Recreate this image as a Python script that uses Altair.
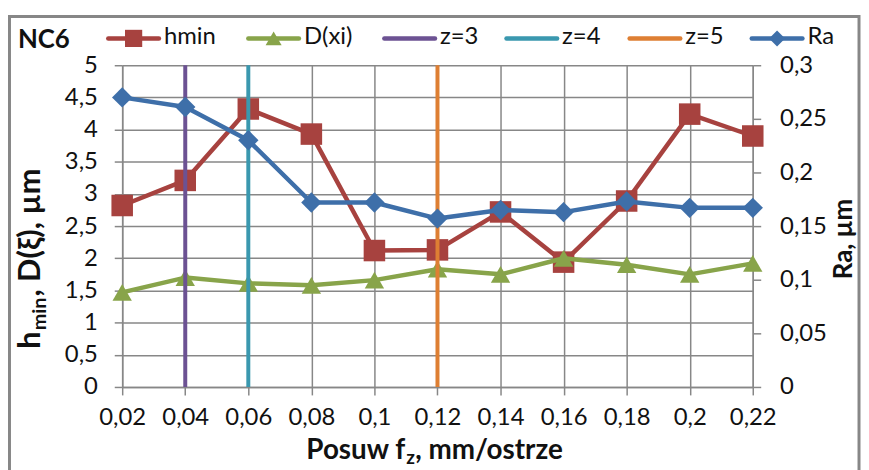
import altair as alt
import pandas as pd

# ---- data ----
feed = [0.02, 0.04, 0.06, 0.08, 0.10, 0.12, 0.14, 0.16, 0.18, 0.20, 0.22]
hmin = [2.82, 3.21, 4.32, 3.93, 2.12, 2.13, 2.72, 1.94, 2.89, 4.24, 3.90]
d_xi = [1.47, 1.70, 1.61, 1.58, 1.66, 1.83, 1.75, 2.00, 1.90, 1.75, 1.92]
ra = [0.270, 0.261, 0.230, 0.172, 0.172, 0.157, 0.165, 0.163, 0.173, 0.167, 0.167]
z_names = ["z=3", "z=4", "z=5"]
z_feed = [0.04, 0.06, 0.12]
left_ticks = [0, 0.5, 1, 1.5, 2, 2.5, 3, 3.5, 4, 4.5, 5]
right_ticks = [0, 0.05, 0.1, 0.15, 0.2, 0.25, 0.3]
legend_names = ["hmin", "D(xi)", "z=3", "z=4", "z=5", "Ra"]

# ---- styling ----
FONT = "Lato"
RED = "#A7423F"
GREEN = "#88A44A"
PURPLE = "#6C5293"
TEAL = "#3A98AF"
ORANGE = "#DE7F33"
BLUE = "#3E6FA9"
GRID = "#878787"
TXT = "#111111"
z_colors = [PURPLE, TEAL, ORANGE]
legend_colors = [RED, GREEN, PURPLE, TEAL, ORANGE, BLUE]
legend_shapes = ["square", "triangle-up", None, None, None, "diamond"]

W, H = 635, 324
COMMA = "replace(toString(datum.value), '.', ',')"

df = pd.DataFrame({"feed": feed, "hmin": hmin, "dxi": d_xi, "ra": ra})
zdf = pd.DataFrame({"feed": z_feed, "name": z_names})
one = pd.DataFrame({"k": [0]})

x_axis = alt.Axis(values=feed, labelExpr=COMMA, title=None, grid=True,
                  gridColor=GRID, gridWidth=1.5, domainColor=GRID, domainWidth=1.5,
                  tickColor=GRID, tickWidth=1.5, tickSize=8, labelFont=FONT,
                  labelFontSize=24, labelColor=TXT, labelPadding=11,
                  labelFlush=False, labelOverlap=False)
X = alt.X("feed:Q", scale=alt.Scale(domain=[0.02, 0.22], nice=False, zero=False), axis=x_axis)

left_axis = alt.Axis(values=left_ticks, labelExpr=COMMA, title=None, grid=True,
                     gridColor=GRID, gridWidth=1.5, domainColor=GRID, domainWidth=1.5,
                     tickColor=GRID, tickWidth=1.5, tickSize=8, labelFont=FONT,
                     labelFontSize=24, labelColor=TXT, labelPadding=17,
                     labelFlush=False, labelOverlap=False)
right_axis = alt.Axis(values=right_ticks, labelExpr=COMMA, title=None, grid=False,
                      orient="right", domainColor=GRID, domainWidth=1.5,
                      tickColor=GRID, tickWidth=1.5, tickSize=8, labelFont=FONT,
                      labelFontSize=24, labelColor=TXT, labelPadding=19,
                      labelFlush=False, labelOverlap=False)

yl_scale = alt.Scale(domain=[0, 5], nice=False, zero=True)
yr_scale = alt.Scale(domain=[0, 0.3], nice=False, zero=True)

base = alt.Chart(df)
line_kw = dict(strokeWidth=4.5, strokeJoin="round", strokeCap="round")

h_line = base.mark_line(color=RED, **line_kw).encode(x=X, y=alt.Y("hmin:Q", scale=yl_scale, axis=left_axis))
h_pts = base.mark_point(shape="square", filled=True, size=470, color=RED, opacity=1).encode(
    x=X, y=alt.Y("hmin:Q", scale=yl_scale, axis=left_axis))
d_line = base.mark_line(color=GREEN, **line_kw).encode(x=X, y=alt.Y("dxi:Q", scale=yl_scale, axis=left_axis))
d_pts = base.mark_point(shape="triangle-up", filled=True, size=380, color=GREEN, opacity=1).encode(
    x=X, y=alt.Y("dxi:Q", scale=yl_scale, axis=left_axis))
z_rules = alt.Chart(zdf).mark_rule(strokeWidth=4).encode(
    x=X, y=alt.value(0), y2=alt.value(H),
    color=alt.Color("name:N", scale=alt.Scale(domain=z_names, range=z_colors), legend=None))

left = alt.layer(h_line, h_pts, d_line, d_pts, z_rules)

r_line = base.mark_line(color=BLUE, **line_kw).encode(x=X, y=alt.Y("ra:Q", scale=yr_scale, axis=right_axis))
r_pts = base.mark_point(shape="diamond", filled=True, size=420, color=BLUE, opacity=1).encode(
    x=X, y=alt.Y("ra:Q", scale=yr_scale, axis=right_axis))
right = alt.layer(r_line, r_pts)

# ---- decoration: frame, legend, titles (pixel positions relative to plot origin) ----
deco = []
deco.append(alt.Chart(one).mark_rect(fillOpacity=0, stroke=GRID, strokeWidth=3).encode(
    x=alt.value(-113.5), x2=alt.value(742), y=alt.value(-49), y2=alt.value(440)))
deco.append(alt.Chart(one).mark_text(text="NC6", font=FONT, fontWeight="bold", fontSize=26,
                                     align="left", baseline="middle", color=TXT).encode(
    x=alt.value(-105), y=alt.value(-25)))

leg_x0 = [-16, 125, 262, 385, 509, 632]
LEG_Y = -27
for name, col, shp, x0 in zip(legend_names, legend_colors, legend_shapes, leg_x0):
    deco.append(alt.Chart(one).mark_rule(color=col, strokeWidth=4.5, strokeCap="round").encode(
        x=alt.value(x0 + 2), x2=alt.value(x0 + 53), y=alt.value(LEG_Y)))
    if shp is not None:
        sz = {"square": 300, "triangle-up": 260, "diamond": 260}[shp]
        deco.append(alt.Chart(one).mark_point(shape=shp, filled=True, size=sz, color=col, opacity=1).encode(
            x=alt.value(x0 + 27.5), y=alt.value(LEG_Y)))
    deco.append(alt.Chart(one).mark_text(text=name, font=FONT, fontSize=24, align="left",
                                         baseline="middle", color=TXT).encode(
        x=alt.value(x0 + 58), y=alt.value(LEG_Y - 1)))

# x-axis title with subscript
XJ, XB = 285, 397
deco.append(alt.Chart(one).mark_text(text="Posuw f", font=FONT, fontWeight="bold", fontSize=28,
                                     align="right", baseline="alphabetic", color=TXT).encode(
    x=alt.value(XJ), y=alt.value(XB)))
deco.append(alt.Chart(one).mark_text(text="z", font=FONT, fontWeight="bold", fontSize=19, dx=1, dy=5,
                                     align="left", baseline="alphabetic", color=TXT).encode(
    x=alt.value(XJ), y=alt.value(XB)))
deco.append(alt.Chart(one).mark_text(text=", mm/ostrze", font=FONT, fontWeight="bold", fontSize=28, dx=10,
                                     align="left", baseline="alphabetic", color=TXT).encode(
    x=alt.value(XJ), y=alt.value(XB)))

# left y title with subscript (rotated)
YXB, YJ = -83, 268
deco.append(alt.Chart(one).mark_text(text="h", font=FONT, fontWeight="bold", fontSize=31, angle=270,
                                     align="right", baseline="alphabetic", color=TXT).encode(
    x=alt.value(YXB), y=alt.value(YJ)))
deco.append(alt.Chart(one).mark_text(text="min", font=FONT, fontWeight="bold", fontSize=20, angle=270,
                                     dx=1, dy=6, align="left", baseline="alphabetic", color=TXT).encode(
    x=alt.value(YXB), y=alt.value(YJ)))
deco.append(alt.Chart(one).mark_text(text=", D(ξ), µm", font=FONT, fontWeight="bold", fontSize=31, angle=270,
                                     dx=35, align="left", baseline="alphabetic", color=TXT).encode(
    x=alt.value(YXB), y=alt.value(YJ)))

# right y title
deco.append(alt.Chart(one).mark_text(text="Ra, µm", font=FONT, fontWeight="bold", fontSize=26, angle=270,
                                     align="center", baseline="middle", color=TXT).encode(
    x=alt.value(727), y=alt.value(175)))

chart = alt.layer(left, right, *deco).resolve_scale(y="independent").properties(
    width=W, height=H,
    autosize=alt.AutoSizeParams(type="none"),
    padding={"left": 115, "top": 56, "right": 109, "bottom": 82},
    background="white",
).configure_view(stroke=None)

chart.save("out.html", embed_options={"renderer": "svg", "actions": False})
